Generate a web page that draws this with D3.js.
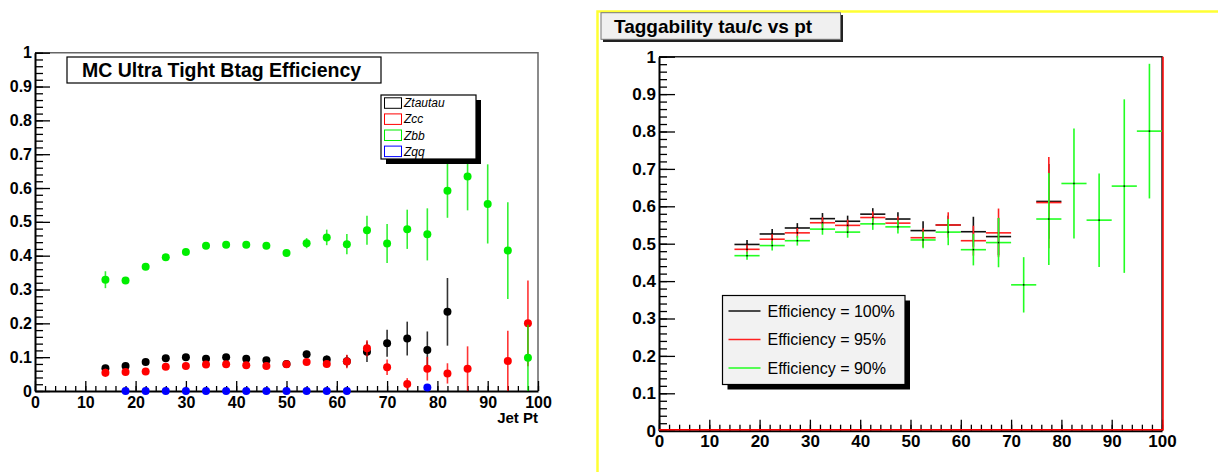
<!DOCTYPE html>
<html lang="en">
<head>
<meta charset="UTF-8">
<title>Btag efficiency and taggability</title>
<script src="https://cdn.jsdelivr.net/npm/d3@7/dist/d3.min.js"></script>
<style>
    body { margin: 0; background: #fff; }
    svg { display: block; font-family: "Liberation Sans", Arial, sans-serif; }
</style>
</head>
<body>
<script>
    // ---- data, left panel (points at bin centres, bin width 4) ----
    let jetPt = [14, 18, 22, 26, 30, 34, 38, 42, 46, 50, 54, 58, 62, 66, 70, 74, 78, 82, 86, 90, 94, 98];
    let ztautau    = [0.067, 0.074, 0.086, 0.097, 0.100, 0.095, 0.100, 0.095, 0.091, 0.080, 0.109, 0.093, 0.088, 0.116, 0.141, 0.155, 0.121, 0.234, null, null, null, null];
    let ztautauErr = [0.010, 0.006, 0.006, 0.006, 0.006, 0.006, 0.006, 0.006, 0.007, 0.008, 0.010, 0.012, 0.018, 0.030, 0.040, 0.050, 0.055, 0.100, null, null, null, null];
    let zcc        = [0.054, 0.056, 0.058, 0.072, 0.074, 0.078, 0.079, 0.076, 0.074, 0.079, 0.086, 0.080, 0.087, 0.126, 0.070, 0.021, 0.066, 0.052, 0.066, null, 0.089, 0.200];
    let zccErr     = [0.012, 0.006, 0.006, 0.006, 0.006, 0.006, 0.006, 0.006, 0.006, 0.007, 0.008, 0.010, 0.020, 0.024, 0.023, 0.017, 0.035, 0.030, 0.066, null, 0.089, 0.127];
    let zbb        = [0.329, 0.327, 0.367, 0.395, 0.411, 0.429, 0.432, 0.432, 0.429, 0.408, 0.437, 0.454, 0.434, 0.475, 0.436, 0.478, 0.463, 0.592, 0.634, 0.553, 0.415, 0.098];
    let zbbErr     = [0.025, 0.008, 0.008, 0.008, 0.008, 0.008, 0.008, 0.008, 0.009, 0.010, 0.015, 0.023, 0.030, 0.043, 0.058, 0.058, 0.077, 0.080, 0.100, 0.117, 0.143, 0.098];
    let zqq        = [null, 0, 0, 0, 0, 0, 0, 0, 0, 0, 0, 0, 0, null, null, null, 0.010, null, null, null, null, null];
    let zqqErr     = [null, 0, 0, 0, 0, 0, 0, 0, 0, 0, 0, 0, 0, null, null, null, 0.005, null, null, null, null, null];
    let leftNames  = ['Ztautau', 'Zcc', 'Zbb', 'Zqq'];

    // ---- data, right panel (bins of width 5) ----
    let binCenters = [17.5, 22.5, 27.5, 32.5, 37.5, 42.5, 47.5, 52.5, 57.5, 62.5, 67.5, 72.5, 77.5, 82.5, 87.5, 92.5, 97.5];
    let eff100    = [0.498, 0.526, 0.542, 0.567, 0.560, 0.579, 0.566, 0.535, 0.550, 0.532, 0.519, null, 0.613, null, null, null, null];
    let eff100Err = [0.012, 0.013, 0.013, 0.015, 0.015, 0.016, 0.018, 0.025, 0.025, 0.040, 0.050, null, 0.100, null, null, null, null];
    let eff95     = [0.485, 0.512, 0.529, 0.556, 0.549, 0.570, 0.555, 0.516, 0.550, 0.508, 0.529, null, 0.610, null, null, null, null];
    let eff95Err  = [0.012, 0.013, 0.013, 0.015, 0.015, 0.016, 0.018, 0.025, 0.034, 0.040, 0.065, null, 0.122, null, null, null, null];
    let eff90     = [0.468, 0.495, 0.508, 0.539, 0.531, 0.553, 0.545, 0.510, 0.531, 0.484, 0.503, 0.390, 0.566, 0.661, 0.563, 0.654, 0.801];
    let eff90Err  = [0.011, 0.013, 0.013, 0.015, 0.015, 0.016, 0.018, 0.022, 0.035, 0.042, 0.066, 0.074, 0.123, 0.147, 0.125, 0.232, 0.180];
    let rightNames = ['Efficiency = 100%', 'Efficiency = 95%', 'Efficiency = 90%'];

    // tick values shared by both panels
    let xTicks = d3.range(0, 11).map(d => d * 10);
    let xMinor = d3.range(0, 51).map(d => d * 2);
    let yTicks = d3.range(0, 11).map(d => d / 10);
    let yMinor = d3.range(0, 51).map(d => d / 50);
    let yLabel = d => d === 0 ? '0' : d === 1 ? '1' : d3.format('.1f')(d);

    let width = 1218, height = 472;
    let svg = d3.select('body').append('svg')
        .attr('width', width)
        .attr('height', height);

    // draws major + minor ticks pointing inwards
    function drawAxes(g, x, y, opt) {
        g.append('g')
            .attr('transform', 'translate(0,' + y(0) + ')')
            .call(d3.axisBottom(x).tickValues(xMinor).tickSize(-opt.xMinorLen).tickFormat(''))
            .call(s => s.select('.domain').remove());
        g.append('g')
            .attr('transform', 'translate(' + x(0) + ',0)')
            .call(d3.axisLeft(y).tickValues(yMinor).tickSize(-opt.yMinorLen).tickFormat(''))
            .call(s => s.select('.domain').remove());

        let ax = g.append('g')
            .attr('transform', 'translate(0,' + y(0) + ')')
            .call(d3.axisBottom(x).tickValues(xTicks).tickSize(-opt.xMajorLen).tickSizeOuter(0).tickPadding(opt.xPad));
        ax.selectAll('text').style('font-size', opt.xFont + 'px').style('font-weight', 'bold');
        let ay = g.append('g')
            .attr('transform', 'translate(' + x(0) + ',0)')
            .call(d3.axisLeft(y).tickValues(yTicks).tickSize(-opt.yMajorLen).tickSizeOuter(0).tickPadding(opt.yPad).tickFormat(yLabel));
        ay.selectAll('text').style('font-size', opt.yFont + 'px').style('font-weight', 'bold');
        g.selectAll('.tick line').attr('stroke', '#000').attr('stroke-width', 1.3);
        g.selectAll('.domain').attr('stroke', '#000').attr('stroke-width', 2);
        g.selectAll('.tick text').attr('fill', '#000');
    }

    /* ================= left panel ================= */
    let xL = d3.scaleLinear().domain([0, 100]).range([35, 538]);
    let yL = d3.scaleLinear().domain([0, 1]).range([391, 52.7]);
    let left = svg.append('g');

    // frame (top / right)
    left.append('path')
        .attr('d', 'M' + xL(0) + ',' + yL(1) + 'H' + xL(100) + 'V' + yL(0))
        .attr('fill', 'none')
        .attr('stroke', '#666')
        .attr('stroke-width', 1.5);

    drawAxes(left, xL, yL, {xMinorLen: 5, xMajorLen: 10, yMinorLen: 8, yMajorLen: 15, xPad: 6, yPad: 3, xFont: 16, yFont: 16});

    left.append('text')
        .attr('x', xL(100))
        .attr('y', 423)
        .attr('text-anchor', 'end')
        .style('font-size', '15px')
        .style('font-weight', 'bold')
        .text('Jet Pt');

    let leftSeries = [
        {vals: ztautau, errs: ztautauErr, color: '#000000'},
        {vals: zcc, errs: zccErr, color: '#ff0000'},
        {vals: zbb, errs: zbbErr, color: '#00ee00'},
        {vals: zqq, errs: zqqErr, color: '#0000ff'}
    ];

    leftSeries.forEach(function (s) {
        let pts = jetPt.map((p, i) => ({x: p, v: s.vals[i], e: s.errs[i]})).filter(d => d.v !== null);
        let g = left.append('g');
        g.selectAll('line')
            .data(pts)
            .enter()
            .append('line')
            .attr('x1', d => xL(d.x))
            .attr('x2', d => xL(d.x))
            .attr('y1', d => yL(Math.max(0, d.v - d.e)))
            .attr('y2', d => yL(d.v + d.e))
            .attr('stroke', s.color)
            .attr('stroke-opacity', 0.8)
            .attr('stroke-width', 1.6);
        g.selectAll('circle')
            .data(pts)
            .enter()
            .append('circle')
            .attr('cx', d => xL(d.x))
            .attr('cy', d => yL(d.v))
            .attr('r', 4)
            .attr('fill', s.color);
    });

    // title box
    left.append('rect')
        .attr('x', 67).attr('y', 57).attr('width', 314).attr('height', 26)
        .attr('fill', '#fff').attr('stroke', '#000').attr('stroke-width', 1.2);
    left.append('text')
        .attr('x', 82).attr('y', 76.5)
        .style('font-size', '19.5px').style('font-weight', 'bold')
        .text('MC Ultra Tight Btag Efficiency');

    // legend with shadow
    let legL = left.append('g').attr('transform', 'translate(381,95)');
    legL.append('rect')
        .attr('x', 5).attr('y', 5).attr('width', 95).attr('height', 64).attr('fill', '#000');
    legL.append('rect')
        .attr('width', 95).attr('height', 64)
        .attr('fill', '#fff').attr('stroke', '#000').attr('stroke-width', 1.2);
    let rowsL = legL.selectAll('.row')
        .data(leftNames)
        .enter()
        .append('g')
        .attr('transform', (d, i) => 'translate(0,' + (2.8 + i * 16.1) + ')');
    rowsL.append('rect')
        .attr('x', 3.5).attr('y', 0).attr('width', 17).attr('height', 10.5)
        .attr('fill', 'none')
        .attr('stroke', (d, i) => leftSeries[i].color)
        .attr('stroke-width', 1);
    rowsL.append('text')
        .attr('x', 23).attr('y', 9.5)
        .style('font-size', '12px').style('font-style', 'italic')
        .text(d => d);

    /* ================= right panel ================= */
    // yellow pad border
    svg.append('path')
        .attr('d', 'M597.5,472V11.5H1218')
        .attr('fill', 'none')
        .attr('stroke', '#ffff33')
        .attr('stroke-width', 2.5);

    let xR = d3.scaleLinear().domain([0, 100]).range([659, 1162]);
    let yR = d3.scaleLinear().domain([0, 1]).range([430.7, 56.7]);
    let right = svg.append('g');

    right.append('path')
        .attr('d', 'M' + xR(0) + ',' + yR(1) + 'H' + xR(100) + 'V' + yR(0))
        .attr('fill', 'none')
        .attr('stroke', '#222')
        .attr('stroke-width', 1.5);

    drawAxes(right, xR, yR, {xMinorLen: 6, xMajorLen: 11, yMinorLen: 8, yMajorLen: 16, xPad: 4, yPad: 3, xFont: 17, yFont: 17});

    // empty 95% bins sit on zero and the histogram edge runs along the right side
    right.append('path')
        .attr('d', 'M' + xR(0) + ',' + (yR(0) - 1) + 'H' + (xR(100) + 1) + 'V' + yR(1))
        .attr('fill', 'none')
        .attr('stroke', '#ff0000')
        .attr('stroke-width', 1.5);

    let rightSeries = [
        {vals: eff100, errs: eff100Err, color: '#111111'},
        {vals: eff95, errs: eff95Err, color: '#ff2020'},
        {vals: eff90, errs: eff90Err, color: '#22ff22'}
    ];

    rightSeries.forEach(function (s) {
        let pts = binCenters.map((c, i) => ({x: c, v: s.vals[i], e: s.errs[i]})).filter(d => d.v !== null);
        let g = right.append('g');
        g.selectAll('.h')
            .data(pts)
            .enter()
            .append('line')
            .attr('x1', d => xR(d.x - 2.5))
            .attr('x2', d => xR(d.x + 2.5))
            .attr('y1', d => yR(d.v))
            .attr('y2', d => yR(d.v))
            .attr('stroke', s.color)
            .attr('stroke-width', 1.6);
        g.selectAll('.v')
            .data(pts)
            .enter()
            .append('line')
            .attr('x1', d => xR(d.x))
            .attr('x2', d => xR(d.x))
            .attr('y1', d => yR(d.v - d.e))
            .attr('y2', d => yR(d.v + d.e))
            .attr('stroke', s.color)
            .attr('stroke-width', 1.6);
        g.selectAll('rect')
            .data(pts)
            .enter()
            .append('rect')
            .attr('x', d => xR(d.x) - 0.75)
            .attr('y', d => yR(d.v) - 0.75)
            .attr('width', 1.5).attr('height', 1.5)
            .attr('fill', '#000');
    });

    // title box
    right.append('rect')
        .attr('x', 603).attr('y', 15).attr('width', 240).attr('height', 27).attr('fill', '#222');
    right.append('rect')
        .attr('x', 601).attr('y', 12.7).attr('width', 239.5).attr('height', 26.6)
        .attr('fill', '#f0f0f0').attr('stroke', '#777').attr('stroke-width', 1);
    right.append('text')
        .attr('x', 614).attr('y', 32.5)
        .style('font-size', '19px').style('font-weight', 'bold')
        .text('Taggability tau/c vs pt');

    // legend
    let legR = right.append('g').attr('transform', 'translate(722.5,295.5)');
    legR.append('rect')
        .attr('x', 5).attr('y', 5).attr('width', 182.5).attr('height', 89).attr('fill', '#000');
    legR.append('rect')
        .attr('width', 182.5).attr('height', 89)
        .attr('fill', '#f2f2f2').attr('stroke', '#000').attr('stroke-width', 1.2);
    let rowsR = legR.selectAll('.row')
        .data(rightNames)
        .enter()
        .append('g')
        .attr('transform', (d, i) => 'translate(0,' + (15.5 + i * 28.5) + ')');
    rowsR.append('line')
        .attr('x1', 6).attr('x2', 38)
        .attr('stroke', (d, i) => rightSeries[i].color)
        .attr('stroke-width', 1.5);
    rowsR.append('text')
        .attr('x', 45).attr('y', 5.5)
        .style('font-size', '16px')
        .text(d => d);
</script>
</body>
</html>
